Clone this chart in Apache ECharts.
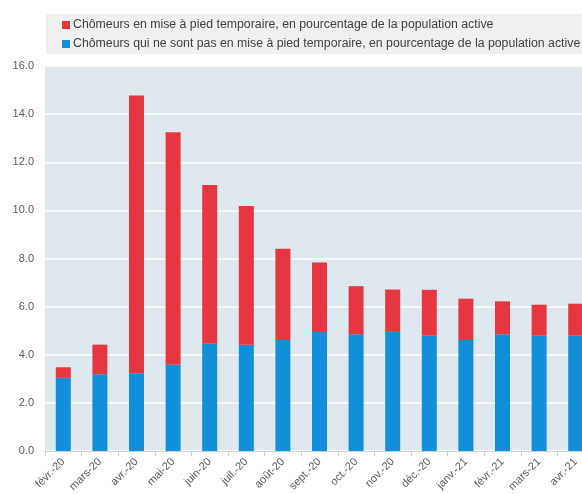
<!DOCTYPE html>
<html>
<head>
<meta charset="utf-8">
<script src="https://cdn.jsdelivr.net/npm/echarts@6/dist/echarts.min.js"></script>
<style>
  html, body { margin: 0; padding: 0; background: #fff; }
  #chart { width: 582px; height: 494px; }
</style>
</head>
<body>
<div id="chart"></div>
<script>
// mois
const categories = ['févr.-20', 'mars-20', 'avr.-20', 'mai-20', 'juin-20', 'juil.-20', 'août-20',
  'sept.-20', 'oct.-20', 'nov.-20', 'déc.-20', 'janv.-21', 'févr.-21', 'mars-21', 'avr.-21'];
// chômeurs hors mise à pied temporaire (%)
const horsMiseAPied = [3.04, 3.19, 3.23, 3.58, 4.46, 4.42, 4.61, 4.95, 4.85, 4.95, 4.79, 4.61, 4.85, 4.79, 4.79];
// chômeurs en mise à pied temporaire (%)
const miseAPied = [0.44, 1.23, 11.54, 9.67, 6.59, 5.76, 3.80, 2.88, 2.00, 1.76, 1.91, 1.72, 1.37, 1.29, 1.33];
const yTicks = [0, 2, 4, 6, 8, 10, 12, 14, 16];

const nomRouge = 'Chômeurs en mise à pied temporaire, en pourcentage de la population active';
const nomBleu = 'Chômeurs qui ne sont pas en mise à pied temporaire, en pourcentage de la population active';
const police = '"Liberation Sans", Arial, sans-serif';

const chart = echarts.init(document.getElementById('chart'));
chart.setOption({
  animation: false,
  textStyle: { fontFamily: police },
  graphic: [{
    type: 'rect',
    shape: { x: 46, y: 14, width: 540, height: 40 },
    style: { fill: '#F0F0F0' },
    z: -1
  }],
  legend: {
    orient: 'vertical',
    left: 62,
    top: 19,
    padding: 0,
    itemGap: 7,
    itemWidth: 8,
    itemHeight: 8,
    icon: 'rect',
    data: [nomRouge, nomBleu],
    textStyle: { fontSize: 12.3, color: '#404040', fontFamily: police, padding: [0, 0, 0, -2] }
  },
  grid: {
    left: 45,
    top: 66,
    right: -12,
    bottom: 43,
    show: true,
    backgroundColor: '#DEE8EE',
    borderWidth: 0,
    containLabel: false,
    outerBoundsMode: 'none'
  },
  xAxis: {
    type: 'category',
    data: categories,
    axisLine: { lineStyle: { color: '#D0D0D0', width: 1 } },
    axisTick: { show: true, interval: 0, length: 5, lineStyle: { color: '#D0D0D0' } },
    axisLabel: { interval: 0, rotate: 45, fontSize: 11, color: '#595959', margin: 9, fontFamily: police }
  },
  yAxis: {
    type: 'value',
    min: yTicks[0],
    max: yTicks[yTicks.length - 1],
    interval: 2,
    axisLine: { show: false },
    axisTick: { show: false },
    axisLabel: { fontSize: 11, color: '#595959', margin: 11, formatter: v => v.toFixed(1), fontFamily: police },
    splitLine: { lineStyle: { color: '#FFFFFF', width: 1.5 } }
  },
  series: [{
    name: nomBleu,
    type: 'bar',
    stack: 'total',
    barWidth: 15,
    data: horsMiseAPied,
    itemStyle: { color: '#118FD9' }
  }, {
    name: nomRouge,
    type: 'bar',
    stack: 'total',
    barWidth: 15,
    data: miseAPied,
    itemStyle: { color: '#E63741' }
  }]
});
</script>
</body>
</html>
